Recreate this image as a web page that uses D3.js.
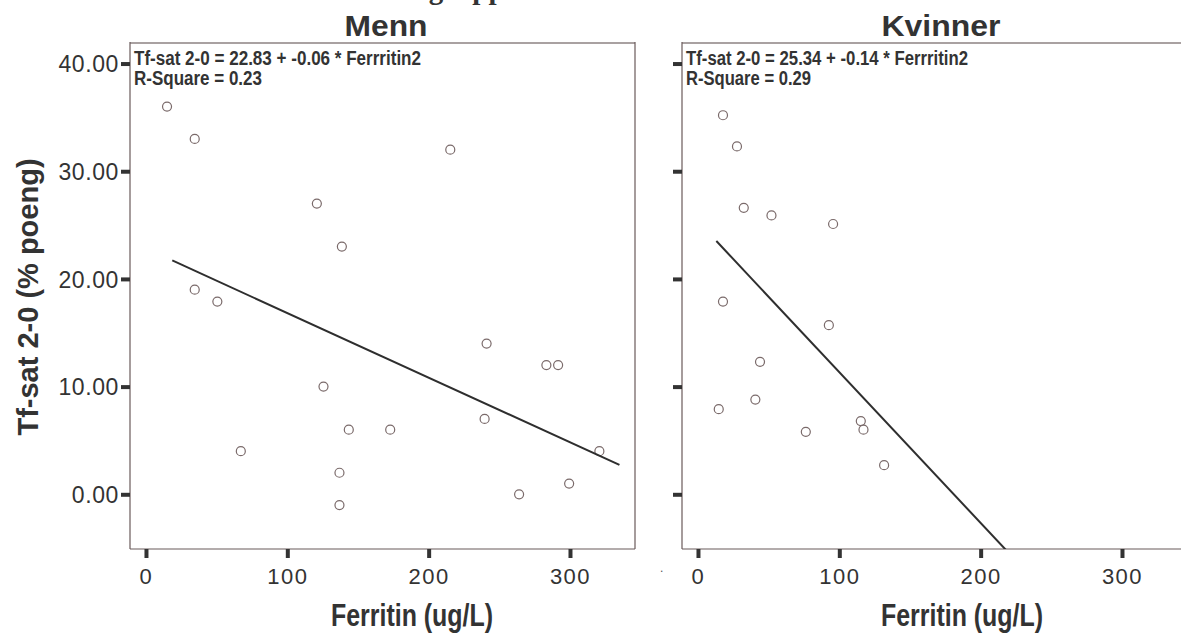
<!DOCTYPE html>
<html>
<head>
<meta charset="utf-8">
<script src="https://cdn.jsdelivr.net/npm/d3@7/dist/d3.min.js"></script>
<style>
  html, body { margin: 0; padding: 0; background: #fff; }
  svg { display: block; }
  text { font-family: "Liberation Sans", Arial, sans-serif; fill: #333; }
</style>
</head>
<body>
<svg id="chart" width="1181" height="635"></svg>
<script>
// Panels (one per group)
const panelTitles = ["Menn", "Kvinner"];

// Ferritin (ug/L) and Tf-sat 2-0 (% poeng), men
const menFerritin = [14.9, 34.5, 120.9, 138.6, 215.3, 34.5, 50.5, 241, 283.3, 291.6,
                     125.6, 239.6, 143.5, 172.8, 67.1, 320.8, 136.9, 299.4, 264, 136.9];
const menTfsat    = [36, 33, 27, 23, 32, 19, 17.9, 14, 12, 12,
                     10, 7, 6, 6, 4, 4, 2, 1, 0, -1];

// Ferritin (ug/L) and Tf-sat 2-0 (% poeng), women
const womenFerritin = [17.7, 27.6, 32.4, 52, 95.6, 17.7, 92.6, 43.9, 40.6, 14.7,
                       76.3, 115.2, 117.1, 131.7];
const womenTfsat    = [35.2, 32.3, 26.6, 25.9, 25.1, 17.9, 15.7, 12.3, 8.8, 7.9,
                       5.8, 6.8, 6.0, 2.7];

// Linear fit per panel
const fitIntercept = [22.83, 25.34];
const fitSlope     = [-0.06, -0.14];
const fitRSquare   = [0.23, 0.29];
const fitFrom      = [18.6, 13];
const fitTo        = [335, 240];

// Axis ticks
const xTicks = [0, 100, 200, 300];
const yTicks = [0, 10, 20, 30, 40];

const xDomain = [-11.3, 346];
const yDomain = [-5.08, 42];

const svg = d3.select("#chart");
svg.append("rect").attr("width", 1181).attr("height", 635).attr("fill", "#fff");

// Heading above the panels (only its lower part falls inside the page)
svg.append("text")
  .attr("x", 432).attr("y", -1)
  .attr("text-anchor", "middle")
  .style("font-family", "'Liberation Serif', 'Times New Roman', serif")
  .style("font-weight", "bold")
  .style("font-size", "29px")
  .style("fill", "#333")
  .text("Aldersgruppe");

const plotTop = 42, plotBottom = 549;
const panels = [
  { left: 130, right: 635, fer: menFerritin, tf: menTfsat, labels: true, titleX: 386, titleLen: 83, xlabX: 412 },
  { left: 682, right: 1187, fer: womenFerritin, tf: womenTfsat, labels: false, titleX: 941, titleLen: 119, xlabX: 962 }
];

const y = d3.scaleLinear().domain(yDomain).range([plotBottom, plotTop]);

panels.forEach((p, i) => {
  const x = d3.scaleLinear().domain(xDomain).range([p.left, p.right]);
  const g = svg.append("g");

  const clipId = "clip" + i;
  svg.append("clipPath").attr("id", clipId)
    .append("rect").attr("x", p.left).attr("y", plotTop)
    .attr("width", p.right - p.left).attr("height", plotBottom - plotTop);

  // frame
  g.append("line").attr("x1", p.left).attr("x2", p.right).attr("y1", plotTop + 1).attr("y2", plotTop + 1)
    .attr("stroke", "#a9a1a1").attr("stroke-width", 2);
  g.append("line").attr("x1", p.left).attr("x2", p.right).attr("y1", plotBottom).attr("y2", plotBottom)
    .attr("stroke", "#9a9090").attr("stroke-width", 1.5);
  g.append("line").attr("x1", p.left).attr("x2", p.left).attr("y1", plotTop).attr("y2", plotBottom)
    .attr("stroke", "#6a5a5a").attr("stroke-width", 1.2);
  g.append("line").attr("x1", p.right).attr("x2", p.right).attr("y1", plotTop).attr("y2", plotBottom)
    .attr("stroke", "#6a5a5a").attr("stroke-width", 1.2);

  // y axis
  const yAxis = d3.axisLeft(y).tickValues(yTicks)
    .tickSize(9).tickPadding(2)
    .tickFormat(p.labels ? d3.format(".2f") : () => "");
  const ya = g.append("g").attr("transform", `translate(${p.left},0)`).call(yAxis);
  ya.select(".domain").remove();
  ya.selectAll(".tick line").attr("stroke", "#333").attr("stroke-width", 4);
  ya.selectAll(".tick text")
    .style("font-size", "23px").style("letter-spacing", "0.6px")
    .attr("fill", "#333").attr("dy", "0.36em");

  // x axis
  const xAxis = d3.axisBottom(x).tickValues(xTicks)
    .tickSize(9).tickPadding(10).tickFormat(d3.format("d"));
  const xa = g.append("g").attr("transform", `translate(0,${plotBottom})`).call(xAxis);
  xa.select(".domain").remove();
  xa.selectAll(".tick line").attr("stroke", "#333").attr("stroke-width", 4);
  xa.selectAll(".tick text")
    .style("font-size", "22px").style("letter-spacing", "1.5px")
    .attr("fill", "#333");

  // points
  g.append("g").selectAll("circle")
    .data(p.fer.map((f, k) => [f, p.tf[k]]))
    .join("circle")
    .attr("cx", d => x(d[0])).attr("cy", d => y(d[1]))
    .attr("r", 4.5)
    .attr("fill", "none").attr("stroke", "#7a6a6a").attr("stroke-width", 1.2);

  // fit line
  const fit = v => fitIntercept[i] + fitSlope[i] * v;
  g.append("line")
    .attr("clip-path", `url(#${clipId})`)
    .attr("x1", x(fitFrom[i])).attr("y1", y(fit(fitFrom[i])))
    .attr("x2", x(fitTo[i])).attr("y2", y(fit(fitTo[i])))
    .attr("stroke", "#2e2e2e").attr("stroke-width", 2);

  // equation
  const eq = `Tf-sat 2-0 = ${fitIntercept[i].toFixed(2)} + ${fitSlope[i].toFixed(2)} * Ferrritin2`;
  g.append("text").attr("x", p.left + 4).attr("y", 65)
    .style("font-size", "20px").style("font-weight", "bold")
    .attr("textLength", i === 0 ? 287 : 282).attr("lengthAdjust", "spacingAndGlyphs")
    .text(eq);
  g.append("text").attr("x", p.left + 4).attr("y", 85)
    .style("font-size", "20px").style("font-weight", "bold")
    .attr("textLength", i === 0 ? 128 : 125).attr("lengthAdjust", "spacingAndGlyphs")
    .text(`R-Square = ${fitRSquare[i].toFixed(2)}`);

  // panel title
  svg.append("text").attr("x", p.titleX - p.titleLen / 2).attr("y", 35.5)
    .style("font-size", "29px").style("font-weight", "bold")
    .attr("textLength", p.titleLen).attr("lengthAdjust", "spacingAndGlyphs")
    .text(panelTitles[i]);

  // x axis title
  svg.append("text").attr("x", p.xlabX - 81).attr("y", 626)
    .style("font-size", "32px").style("font-weight", "bold")
    .attr("textLength", 162).attr("lengthAdjust", "spacingAndGlyphs")
    .text("Ferritin (ug/L)");
});

// y axis title
svg.append("text")
  .attr("transform", "translate(38,297) rotate(-90)")
  .attr("text-anchor", "middle")
  .style("font-size", "29px").style("font-weight", "bold")
  .text("Tf-sat 2-0 (% poeng)");

// stray mark between the panels
svg.append("text").attr("x", 660).attr("y", 572)
  .style("font-size", "12px").style("fill", "#555").text(".");
</script>
</body>
</html>
